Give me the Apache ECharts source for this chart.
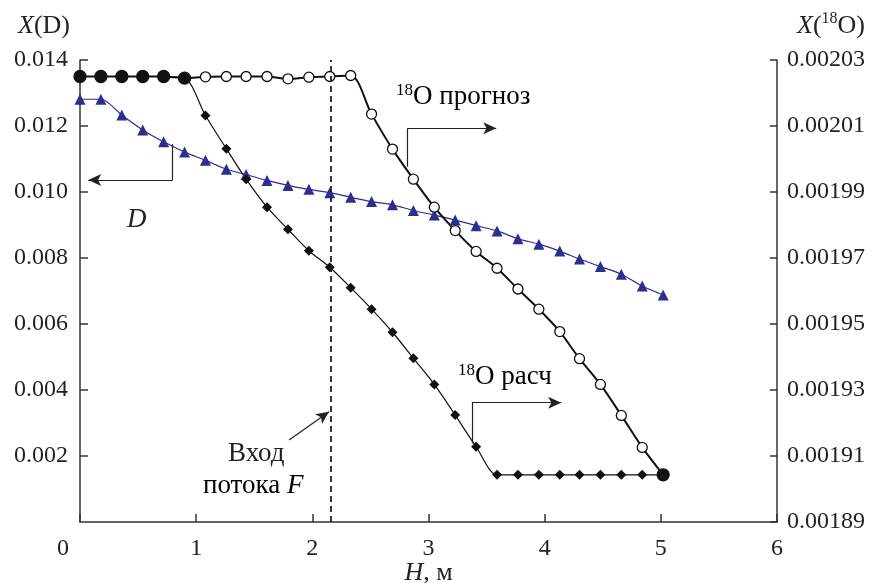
<!DOCTYPE html>
<html>
<head>
<meta charset="utf-8">
<script src="https://cdn.jsdelivr.net/npm/echarts@6/dist/echarts.min.js"></script>
<style>
  html, body { margin: 0; padding: 0; background: #fff; }
  #chart { width: 873px; height: 583px; }
</style>
</head>
<body>
<div id="chart"></div>
<script>
// node positions along the column, m
const depthH = [0, 0.18, 0.36, 0.54, 0.72, 0.90, 1.08, 1.26, 1.43, 1.61, 1.79, 1.97, 2.15, 2.33, 2.51,
  2.69, 2.87, 3.05, 3.23, 3.41, 3.59, 3.77, 3.95, 4.13, 4.30, 4.48, 4.66, 4.84, 5.02];

// X(D), left axis
const deuterium = [0.01281, 0.01281, 0.01233, 0.01188, 0.01152, 0.01121, 0.01096, 0.01069, 0.01053,
  0.01035, 0.01020, 0.01008, 0.00998, 0.00984, 0.00971, 0.00961, 0.00944, 0.00930, 0.00915,
  0.00898, 0.00882, 0.00858, 0.00842, 0.00821, 0.00797, 0.00774, 0.00751, 0.00715, 0.00688];

// X(18O) forecast, right axis
const o18Forecast = [0.0020250, 0.0020250, 0.0020250, 0.0020250, 0.0020250, 0.0020245, 0.0020249,
  0.0020250, 0.0020250, 0.0020250, 0.0020243, 0.0020248, 0.0020250, 0.0020253, 0.0020136,
  0.0020030, 0.0019939, 0.0019854, 0.0019783, 0.0019720, 0.0019669, 0.0019606, 0.0019545,
  0.0019477, 0.0019395, 0.0019317, 0.0019223, 0.0019126, 0.0019043];

// X(18O) calculated, right axis
const o18Calc = [0.0020250, 0.0020250, 0.0020250, 0.0020250, 0.0020250, 0.0020245, 0.0020132,
  0.0020031, 0.0019939, 0.0019854, 0.0019787, 0.0019722, 0.0019672, 0.0019610, 0.0019545,
  0.0019475, 0.0019396, 0.0019317, 0.0019224, 0.0019128, 0.0019043, 0.0019043, 0.0019043,
  0.0019043, 0.0019043, 0.0019043, 0.0019043, 0.0019043, 0.0019043];

const feedInlet = 2.16;
const rightTicks = [0.00189, 0.00191, 0.00193, 0.00195, 0.00197, 0.00199, 0.00201, 0.00203];

const FONT = 'Liberation Serif';
const chart = echarts.init(document.getElementById('chart'));

const nameRich = {
  i: { fontFamily: FONT, fontStyle: 'italic', fontSize: 26, color: '#222', lineHeight: 30 },
  n: { fontFamily: FONT, fontSize: 26, color: '#222', lineHeight: 30 },
  s: { fontFamily: FONT, fontSize: 16, color: '#222', verticalAlign: 'top', lineHeight: 30 },
};
const annRich = {
  i: { fontFamily: FONT, fontStyle: 'italic', fontSize: 27, color: '#222', lineHeight: 30 },
  n: { fontFamily: FONT, fontSize: 27, color: '#222', lineHeight: 30 },
  s: { fontFamily: FONT, fontSize: 17, color: '#222', verticalAlign: 'top', lineHeight: 30 },
};

const pair = (vals) => depthH.map((h, i) => [h, vals[i]]);

// bent leader arrow: vertical stub then horizontal arrow
const bent = (x, y0, y1, x1) => [
  [{ coord: [x, y0], symbol: 'none' }, { coord: [x, y1], symbol: 'none' }],
  [{ coord: [x, y1], symbol: 'none' }, { coord: [x1, y1], symbol: 'arrow' }],
];

chart.setOption({
  animation: false,
  textStyle: { fontFamily: FONT },
  grid: { left: 80, right: 96, top: 60, bottom: 61, containLabel: false, outerBoundsMode: 'none' },
  xAxis: {
    type: 'value',
    min: 0,
    max: 6,
    interval: 1,
    splitLine: { show: false },
    axisLine: { show: true, onZero: false, lineStyle: { color: '#333', width: 1.5 } },
    axisTick: { show: true, inside: true, length: 8, lineStyle: { color: '#333', width: 1.5 } },
    axisLabel: {
      margin: 15,
      fontSize: 24,
      color: '#222',
      formatter: (v) => (v === 0 ? '{z|0}' : String(v)),
      rich: { z: { fontFamily: FONT, fontSize: 24, color: '#222', padding: [0, 34, 0, 0] } },
    },
    name: '{i|H}{n|, м}',
    nameLocation: 'middle',
    nameGap: 36,
    nameMoveOverlap: false,
    nameTextStyle: { rich: nameRich },
  },
  yAxis: [
    {
      type: 'value',
      position: 'left',
      min: 0,
      max: 0.014,
      interval: 0.002,
      splitLine: { show: false },
      axisLine: { show: true, lineStyle: { color: '#333', width: 1.5 } },
      axisTick: { show: true, inside: true, length: 8, lineStyle: { color: '#333', width: 1.5 } },
      axisLabel: {
        margin: 12,
        fontSize: 24,
        color: '#222',
        showMinLabel: false,
        formatter: (v) => v.toFixed(3),
      },
      name: '{i|X}{n|(D)}',
      nameLocation: 'end',
      nameGap: 19,
      nameTextStyle: { align: 'right', padding: [0, 10, 0, 0], rich: nameRich },
    },
    {
      type: 'value',
      position: 'right',
      min: 0.00189,
      max: 0.00203,
      splitLine: { show: false },
      axisLine: { show: true, lineStyle: { color: '#333', width: 1.5 } },
      axisTick: { show: true, inside: true, length: 7, customValues: rightTicks,
        lineStyle: { color: '#333', width: 1.5 } },
      axisLabel: {
        margin: 10,
        fontSize: 24,
        color: '#222',
        customValues: rightTicks,
        formatter: (v) => v.toFixed(5),
      },
      name: '{i|X}{n|(}{s|18}{n|O)}',
      nameLocation: 'end',
      nameGap: 19,
      nameTextStyle: { align: 'left', padding: [0, 0, 0, 20], rich: nameRich },
    },
  ],
  series: [
    {
      name: 'D',
      type: 'line',
      yAxisIndex: 0,
      smooth: 0.3,
      data: pair(deuterium),
      symbol: 'triangle',
      symbolSize: 11,
      itemStyle: { color: '#2B2F8E' },
      lineStyle: { color: '#2B2F8E', width: 1.2 },
      markLine: {
        silent: true,
        symbol: ['none', 'none'],
        symbolSize: [9, 13],
        label: { show: false },
        lineStyle: { color: '#222', width: 1.2, type: 'solid' },
        data: [
          { xAxis: feedInlet, lineStyle: { type: [6, 4], width: 1.8, color: '#222' } },
          ...bent(0.797, 0.011455, 0.010364, 0.071),
          ...bent(2.818, 0.010767, 0.01193, 3.583),
          ...bent(3.373, 0.002385, 0.003615, 4.142),
          [{ coord: [1.80, 0.002485], symbol: 'none' }, { coord: [2.144, 0.003342], symbol: 'arrow' }],
        ],
      },
    },
    {
      name: '18O расч',
      type: 'line',
      yAxisIndex: 1,
      smooth: 0.3,
      data: pair(o18Calc),
      symbol: 'diamond',
      symbolSize: 10,
      itemStyle: { color: '#111' },
      lineStyle: { color: '#111', width: 1.2 },
    },
    {
      name: '18O прогноз',
      type: 'line',
      yAxisIndex: 1,
      smooth: 0.3,
      data: depthH.map((h, i) => {
        const same = o18Forecast[i] === o18Calc[i];
        return {
          value: [h, o18Forecast[i]],
          symbolSize: same ? 12 : 10,
          itemStyle: same ? { color: '#111', borderColor: '#111' } : undefined,
        };
      }),
      symbol: 'circle',
      symbolSize: 10,
      itemStyle: { color: '#fff', borderColor: '#111', borderWidth: 1.3 },
      lineStyle: { color: '#111', width: 2 },
    },
  ],
  graphic: [
    { type: 'text', left: 127, top: 206, style: { text: 'D', font: 'italic 27px "Liberation Serif"', fill: '#222' } },
    { type: 'text', left: 396, top: 82, style: { text: '{s|18}{n|O прогноз}', rich: annRich } },
    { type: 'text', left: 458, top: 362, style: { text: '{s|18}{n|O расч}', rich: annRich } },
    { type: 'text', left: 228, top: 440, style: { text: 'Вход', font: '27px "Liberation Serif"', fill: '#222' } },
    { type: 'text', left: 203, top: 472, style: { text: '{n|потока }{i|F}', rich: annRich } },
  ],
});
</script>
</body>
</html>
